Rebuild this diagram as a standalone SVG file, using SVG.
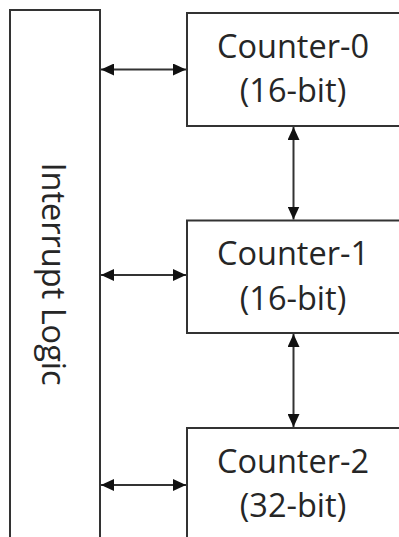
<svg xmlns="http://www.w3.org/2000/svg" width="399" height="537" viewBox="0 0 399 537">
<style>
.box{fill:#fff;stroke:#333;stroke-width:2}
.lbl{font-family:"Open Sans","Noto Sans","Liberation Sans",sans-serif;font-size:32.5px;fill:#262626;text-anchor:middle}
.conn{stroke:#333;stroke-width:2;fill:none;marker-start:url(#ah);marker-end:url(#ah)}
</style>
<defs>
<marker id="ah" viewBox="0 0 13 12" refX="13" refY="6" markerWidth="13" markerHeight="12" markerUnits="userSpaceOnUse" orient="auto-start-reverse">
<path d="M0,0 L13,6 L0,12 Z" fill="#111"/>
</marker>
</defs>
<rect width="399" height="537" fill="#fff"/>
<g id="interrupt-logic">
<rect class="box" x="10" y="10" width="90" height="540"/>
<text class="lbl" transform="translate(42,274) rotate(90)">Interrupt Logic</text>
</g>
<g id="counter-0">
<rect class="box" x="187" y="13" width="230" height="113"/>
<text class="lbl" x="293" y="58">Counter-0</text>
<text class="lbl" x="293" y="102">(16-bit)</text>
</g>
<g id="counter-1">
<rect class="box" x="187" y="220.5" width="230" height="112.5"/>
<text class="lbl" x="293" y="265">Counter-1</text>
<text class="lbl" x="293" y="309.5">(16-bit)</text>
</g>
<g id="counter-2">
<rect class="box" x="187" y="428" width="230" height="140"/>
<text class="lbl" x="293" y="472.5">Counter-2</text>
<text class="lbl" x="293" y="517">(32-bit)</text>
</g>
<g id="connectors">
<line class="conn" x1="101" y1="69.5" x2="186" y2="69.5"/>
<line class="conn" x1="101" y1="275" x2="186" y2="275"/>
<line class="conn" x1="101" y1="485" x2="186" y2="485"/>
<line class="conn" x1="293.5" y1="127" x2="293.5" y2="219.5"/>
<line class="conn" x1="293.5" y1="334" x2="293.5" y2="427"/>
</g>
</svg>
